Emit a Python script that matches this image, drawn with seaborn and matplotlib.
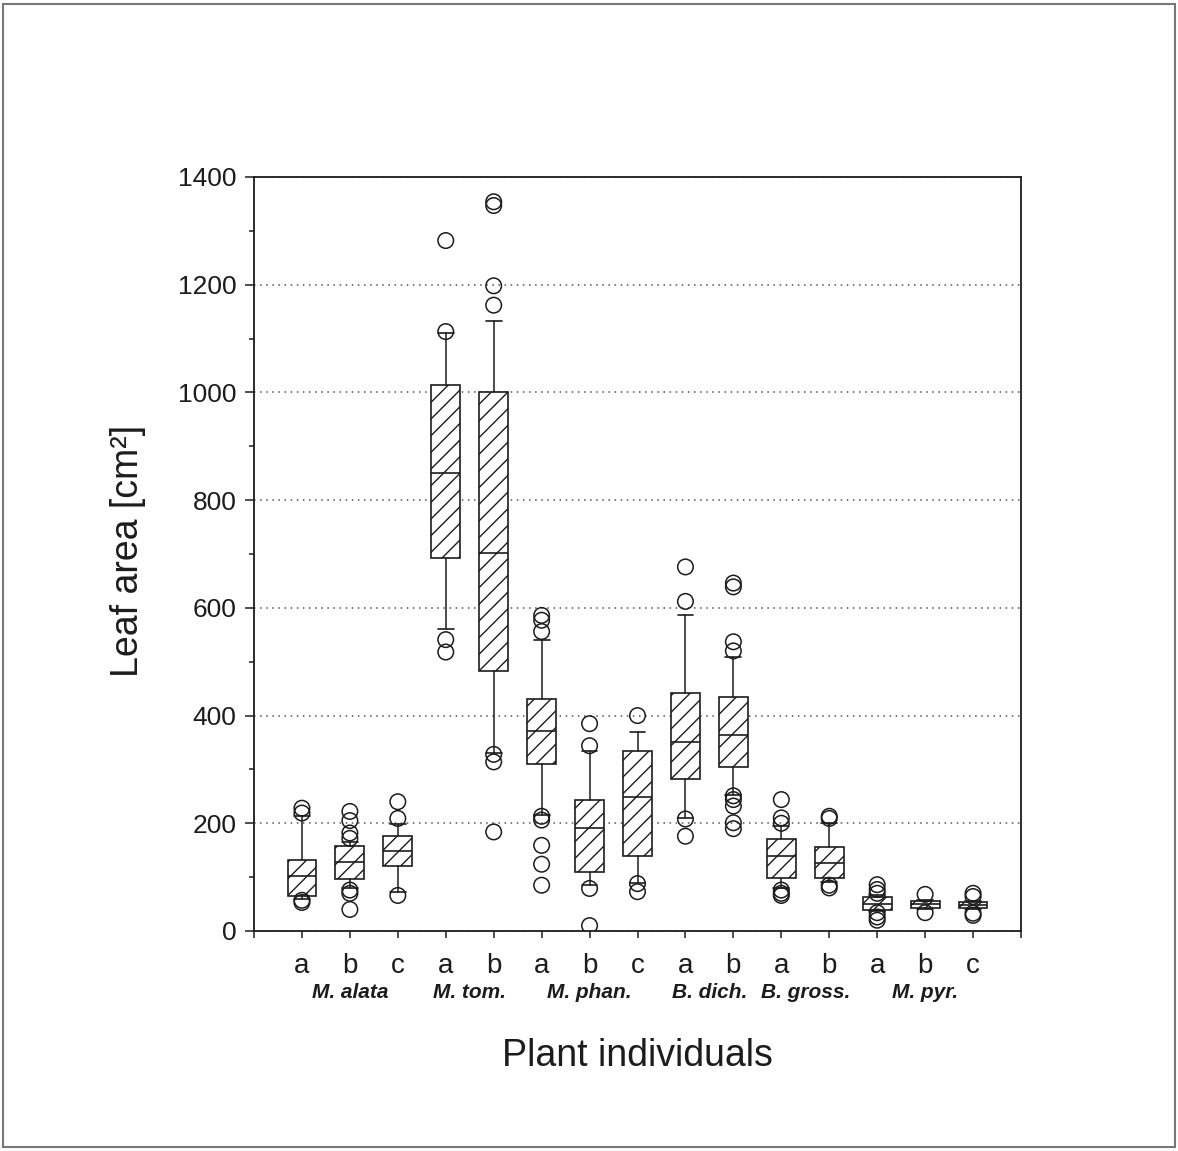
import matplotlib
matplotlib.use("Agg")
import matplotlib.pyplot as plt
from matplotlib.patches import Rectangle
from matplotlib.ticker import MultipleLocator
import numpy as np
import pandas as pd
import seaborn as sns

# Plant individuals (one box each) and the species they belong to
individuals = ["a", "b", "c", "a", "b", "a", "b", "c", "a", "b", "a", "b", "a", "b", "c"]
species = (["M. alata"] * 3 + ["M. tom."] * 2 + ["M. phan."] * 3
           + ["B. dich."] * 2 + ["B. gross."] * 2 + ["M. pyr."] * 3)
species_order = ["M. alata", "M. tom.", "M. phan.", "B. dich.", "B. gross.", "M. pyr."]

# Leaf area summaries [cm²] per individual
q1 = [65, 97, 120, 692, 482, 310, 110, 140, 282, 304, 98, 99, 39, 42, 42]
medians = [103, 128, 149, 850, 701, 371, 192, 249, 351, 363, 140, 126, 51, 49.5, 48]
q3 = [132, 158, 176, 1013, 1001, 430, 243, 334, 442, 434, 171, 156, 63, 56, 53]
whisker_low = [60, 80, 73, 561, 331, 216, 85, 89, 210, 253, 79, 91, 37, 40, 40]
whisker_high = [213, 166, 198, 1111, 1133, 541, 334, 369, 586, 508, 195, 200, 66, 58, 55]

# Single leaves outside the whiskers
outliers = [
    [228, 219, 57, 53],
    [222, 205, 182, 172, 76, 70, 40],
    [240, 209, 66],
    [1282, 1113, 541, 518],
    [1354, 1347, 1198, 1162, 328, 314, 184],
    [586, 577, 556, 213, 206, 159, 124, 85],
    [385, 344, 79, 10],
    [400, 88, 73],
    [676, 612, 208, 176],
    [646, 639, 537, 520, 251, 244, 232, 201, 190],
    [244, 210, 200, 76, 70, 66],
    [213, 209, 85, 80],
    [86, 77, 70, 34, 26, 20],
    [68, 34],
    [70, 64, 33, 29],
]

ink = "#1c1c1c"

sns.set_theme(style="ticks")
plt.rcParams["font.family"] = ["Liberation Sans", "DejaVu Sans"]
plt.rcParams["hatch.color"] = ink
plt.rcParams["hatch.linewidth"] = 1.0

fig = plt.figure(figsize=(11.78, 11.51), dpi=100)
ax = fig.add_axes([254 / 1178, 1 - 931 / 1151, 767 / 1178, 754 / 1151])

positions = np.arange(len(individuals))
stats = [
    dict(med=m, q1=a, q3=b, whislo=lo, whishi=hi, fliers=[])
    for m, a, b, lo, hi in zip(medians, q1, q3, whisker_low, whisker_high)
]

ax.bxp(
    stats,
    positions=positions,
    widths=0.6,
    capwidths=0.33,
    patch_artist=True,
    showfliers=False,
    manage_ticks=False,
    boxprops=dict(facecolor="white", edgecolor=ink, linewidth=1.2, hatch="//"),
    medianprops=dict(color=ink, linewidth=1.2),
    whiskerprops=dict(color=ink, linewidth=1.1),
    capprops=dict(color=ink, linewidth=1.2),
)

flier_df = pd.DataFrame(
    [(p, v) for p, vals in zip(positions, outliers) for v in vals],
    columns=["position", "leaf_area"],
)
sns.scatterplot(
    data=flier_df, x="position", y="leaf_area", ax=ax,
    marker="o", s=125, facecolor="none", edgecolor=ink, linewidth=1.1,
    legend=False, zorder=4,
)

# Axes limits, ticks and grid
ax.set_xlim(-1, 15)
ax.set_ylim(0, 1400)
ax.set_xticks(np.arange(-1, 16))
ax.set_xticklabels([""] + individuals + [""])
ax.set_yticks(np.arange(0, 1401, 200))
ax.yaxis.set_minor_locator(MultipleLocator(100))
ax.tick_params(axis="x", direction="out", length=5, width=1.1, pad=11,
               labelsize=20, color=ink, labelcolor=ink)
ax.tick_params(axis="y", which="major", direction="out", length=6.5, width=1.1,
               pad=6, labelsize=19, color=ink, labelcolor=ink)
ax.tick_params(axis="y", which="minor", direction="out", length=3.5, width=1.1, color=ink)

ax.set_axisbelow(True)
ax.yaxis.grid(True, which="major", linestyle=(0, (1, 3)), linewidth=1.1, color="#4a5a4a")
ax.xaxis.grid(False)
for spine in ax.spines.values():
    spine.set_visible(True)
    spine.set_linewidth(1.3)
    spine.set_color(ink)

# Species names under their individuals
for name in species_order:
    center = np.mean([p for p, s in zip(positions, species) if s == name])
    ax.text(center, -0.082, name, transform=ax.get_xaxis_transform(),
            ha="center", va="center", fontsize=15, fontweight="bold",
            fontstyle="italic", color=ink)

ax.set_xlabel("Plant individuals", fontsize=27, color=ink)
ax.xaxis.label.set_va("center")
ax.xaxis.set_label_coords(0.5, -0.166)
ax.set_ylabel("Leaf area [cm²]", fontsize=27, color=ink)
ax.yaxis.label.set_va("center")
ax.yaxis.set_label_coords(-0.164, 0.504)

# Thin frame around the whole figure
fig.patches.append(Rectangle((0.0025, 0.0035), 0.995, 0.993, transform=fig.transFigure,
                             fill=False, edgecolor="#777777", linewidth=1.5))

fig.savefig("out.png", dpi=100, facecolor="white")
